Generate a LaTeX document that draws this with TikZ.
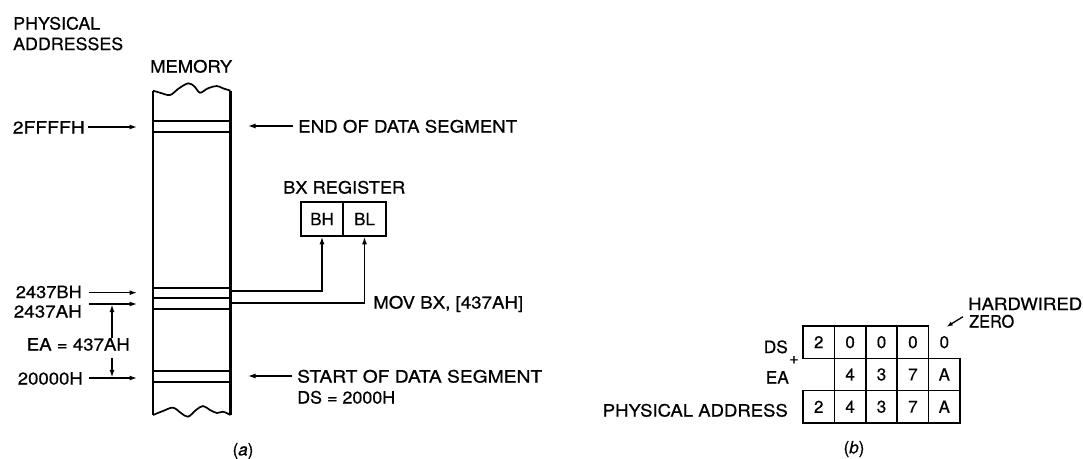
\documentclass[tikz,border=0pt]{standalone}
\usepackage{fontspec}
\usepackage{graphicx}
\setmainfont{TeX Gyre Heros}[FakeBold=0.5]
\usetikzlibrary{arrows.meta}
\newcommand{\fw}[2]{\resizebox{#1pt}{\height}{#2}}
\begin{document}
\begin{tikzpicture}[x=1pt,y=-1pt,
  txt/.style={inner sep=0pt, font=\fontsize{17}{14}\selectfont},
  arr/.style={-{Latex[length=7.5pt,width=5pt]}, line width=1.3pt},
  thinl/.style={line width=1.7pt},
  side/.style={line width=2.5pt},
  reg/.style={draw, line width=1.6pt, minimum width=42.5pt, minimum height=34pt, inner sep=0pt, font=\fontsize{17}{14}\selectfont},
  cell/.style={draw, line width=1.6pt, minimum width=31.4pt, minimum height=32.3pt, inner sep=0pt, font=\fontsize{17}{14}\selectfont},
  nocell/.style={inner sep=0pt, font=\fontsize{17}{14}\selectfont}
]
\useasboundingbox (0,0) rectangle (1083,458);
\fill[white] (0,0) rectangle (1083,458);

% ---------- memory column ----------
\coordinate (mTL) at (153,90.7);
\coordinate (mTR) at (230.5,90.7);
\coordinate (mBL) at (153,415);
\coordinate (mBR) at (230.5,415);
\draw[side] (mTL) -- (mBL);
\draw[side] (mTR) -- (mBR);
\draw[thinl] plot[smooth, tension=0.6] coordinates {(153,90.7) (160,92.7) (170,95) (178,89) (188.3,83.3) (195,87) (200,92.7) (208,88.3) (216.7,86) (223,88.3) (230.5,90.7)};
\draw[thinl] plot[smooth, tension=0.6] coordinates {(153,415) (163,411) (173,407.7) (181,413) (188,416.7) (196,410) (203,406) (210,410) (217,413) (223,411.7) (230.5,415)};
\foreach \yy in {121,132,288,298,309,371,382}
  \draw[thinl] (153,\yy) -- (230.5,\yy);

% ---------- texts ----------
\node[txt, anchor=base west] (phys) at (13,29.5) {\fw{87}{PHYSICAL}};
\node[txt, anchor=base west] (addr) at (13,50) {\fw{110}{ADDRESSES}};
\node[txt, anchor=base west] (mem) at (150,72.5) {\fw{82}{MEMORY}};
\node[txt, anchor=base east] (a2ffff) at (85,133.5) {\fw{72}{2FFFFH}};
\node[txt, anchor=base west] (eods) at (298,132.5) {\fw{219}{END OF DATA SEGMENT}};
\node[txt, anchor=base west] (bxr) at (283,193.5) {\fw{122}{BX REGISTER}};
\node[reg] (bh) at (322,219) {BH};
\node[reg] (bl) at (364.5,219) {BL};
\node[txt, anchor=base east] (a2437b) at (82,298) {\fw{66}{2437BH}};
\node[txt, anchor=base east] (a2437a) at (82,317.5) {\fw{68}{2437AH}};
\node[txt, anchor=base east] (ea) at (130,350.5) {\fw{103}{EA = 437AH}};
\node[txt, anchor=base east] (a20000) at (83,384.5) {\fw{65}{20000H}};
\node[txt, anchor=base west] (mov) at (373,308.5) {\fw{150}{MOV BX, [437AH]}};
\node[txt, anchor=base west] (sods) at (297,382.5) {\fw{245}{START OF DATA SEGMENT}};
\node[txt, anchor=base west] (dsv) at (297,403.5) {\fw{98}{DS = 2000H}};
\node[inner sep=0pt, font=\fontsize{17}{17}\selectfont] (capa) at (243,451) {(\textit{a})};

% ---------- arrows, left ----------
\coordinate (s1) at (88,127);   \coordinate (e1) at (137,127);
\coordinate (s2) at (89,292.7); \coordinate (e2) at (137,292.7);
\coordinate (s3) at (89,304);   \coordinate (e3) at (137,304);
\coordinate (s4) at (89,378);   \coordinate (e4) at (137,378);
\draw[arr] (s1) -- (e1);
\draw[arr] (s2) -- (e2);
\draw[arr] (s3) -- (e3);
\draw[arr] (s4) -- (e4);
\coordinate (v1s) at (112,338); \coordinate (v1e) at (112,304.6);
\coordinate (v2s) at (112,358); \coordinate (v2e) at (112,377.4);
\draw[arr] (v1s) -- (v1e);
\draw[arr] (v2s) -- (v2e);

% ---------- arrows, right ----------
\coordinate (r1s) at (293,126); \coordinate (r1e) at (248,126);
\coordinate (r2s) at (292,376); \coordinate (r2e) at (248,376);
\draw[arr] (r1s) -- (r1e);
\draw[arr] (r2s) -- (r2e);
\coordinate (mb) at (231,291);
\coordinate (ma) at (231,303);
\draw[arr] (mb) -| (bh.south);
\draw[arr] (ma) -| (bl.south);

% ---------- (b) address computation ----------
\node[cell] (ds1) at (818.7,342.15) {2};
\node[cell] (ds2) at (850.1,342.15) {0};
\node[cell] (ds3) at (881.5,342.15) {0};
\node[cell] (ds4) at (912.9,342.15) {0};
\node[nocell] (hz) at (944.3,342.15) {0};
\node[cell] (ea2) at (850.1,374.45) {4};
\node[cell] (ea3) at (881.5,374.45) {3};
\node[cell] (ea4) at (912.9,374.45) {7};
\node[cell] (ea5) at (944.3,374.45) {A};
\node[cell] (pa1) at (818.7,406.75) {2};
\node[cell] (pa2) at (850.1,406.75) {4};
\node[cell] (pa3) at (881.5,406.75) {3};
\node[cell] (pa4) at (912.9,406.75) {7};
\node[cell] (pa5) at (944.3,406.75) {A};

\node[txt, anchor=base east] (lds) at (788,353) {\fw{24}{DS}};
\node[inner sep=0pt, font=\fontsize{16}{16}\selectfont] (plus) at (794,360) {+};
\node[txt, anchor=base east] (lea) at (789,383.5) {\fw{23}{EA}};
\node[txt, anchor=base east] (lpa) at (788,416.5) {\fw{185}{PHYSICAL ADDRESS}};
\node[txt, anchor=base west] (hw1) at (968,310) {\fw{114}{HARDWIRED}};
\node[txt, anchor=base west] (hw2) at (969,327.5) {\fw{45}{ZERO}};
\coordinate (hwA) at (963,316.7);
\coordinate (hwB) at (946.7,326.7);
\draw[arr, -{Latex[length=6pt,width=4.5pt]}] (hwA) -- (hwB);
\node[inner sep=0pt, font=\fontsize{17}{17}\selectfont] (capb) at (854,449) {(\textit{b})};
\end{tikzpicture}
\end{document}
